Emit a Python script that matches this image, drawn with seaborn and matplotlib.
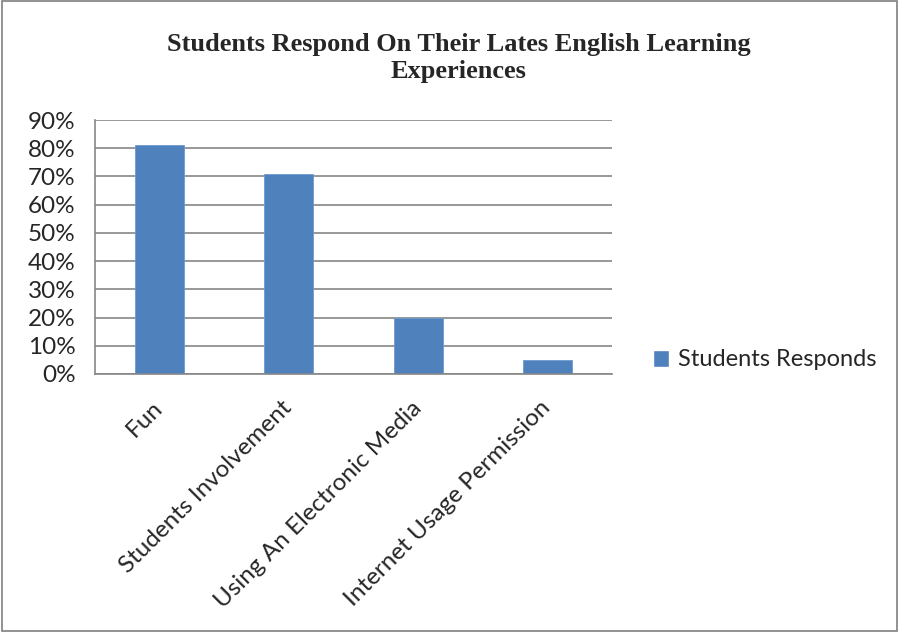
import matplotlib
matplotlib.use("Agg")
import matplotlib.pyplot as plt
import seaborn as sns
import pandas as pd
from matplotlib.ticker import PercentFormatter, FixedLocator, MultipleLocator
from matplotlib.patches import Rectangle

categories = ["Fun", "Students Involvement", "Using An Electronic Media", "Internet Usage Permission"]
values = [81, 71, 20, 5]
series_name = "Students Responds"
title = "Students Respond On Their Lates English Learning\nExperiences"

df = pd.DataFrame({"category": categories, "value": values})

sns.set_style("white")
plt.rcParams['font.family'] = ['Lato', 'DejaVu Sans']

fig = plt.figure(figsize=(8.99, 6.32), dpi=100)
ax = fig.add_axes([95/899, 1-374/632, (612-95)/899, (374-120)/632])

bar_color = "#4F81BD"
sns.barplot(data=df, x="category", y="value", color=bar_color, width=0.38,
            ax=ax, saturation=1, edgecolor="#6f9bd1", linewidth=0.6)
if ax.get_legend() is not None:
    ax.get_legend().remove()

ax.set_xlim(-0.5, len(categories) - 0.5)
ax.set_ylim(0, 90)
ax.yaxis.set_major_locator(MultipleLocator(10))
ax.yaxis.set_major_formatter(PercentFormatter(decimals=0))
ax.grid(axis="y", color="#868686", linewidth=1.2)
ax.set_axisbelow(True)
ax.set_xlabel("")
ax.set_ylabel("")

for s in ["top", "right"]:
    ax.spines[s].set_visible(False)
for s in ["left", "bottom"]:
    ax.spines[s].set_color("#868686")
    ax.spines[s].set_linewidth(1.2)

fs = 17.5
ax.tick_params(axis="y", which="major", direction="out", length=6, color="#868686",
               width=1.2, labelsize=fs, pad=8)
ax.tick_params(axis="x", which="major", length=0, labelsize=fs, pad=22)
ax.xaxis.set_minor_locator(FixedLocator([i - 0.5 for i in range(len(categories) + 1)]))
ax.tick_params(axis="x", which="minor", direction="out", length=6, color="#868686", width=1.2)
for lab in ax.get_xticklabels():
    lab.set_rotation(45)
    lab.set_ha("right")
    lab.set_va("center")
    lab.set_rotation_mode("anchor")

fig.text(459/899, 1-58/632, title, ha="center", va="center", fontsize=19,
         fontweight="bold", family="Liberation Serif", linespacing=1.25)

leg_handle = Rectangle((0, 0), 1, 1, facecolor=bar_color)
fig.legend([leg_handle], [series_name], loc="center left",
           bbox_to_anchor=(636/899, 1-360/632), frameon=False, fontsize=17,
           handlelength=0.7, handleheight=0.7, handletextpad=0.4, borderpad=0.2)

fig.patches.append(Rectangle((0.002, 0.002), 0.996, 0.996, transform=fig.transFigure,
                             fill=False, edgecolor="#7f7f7f", linewidth=1.2))

fig.savefig("out.png", dpi=100)
